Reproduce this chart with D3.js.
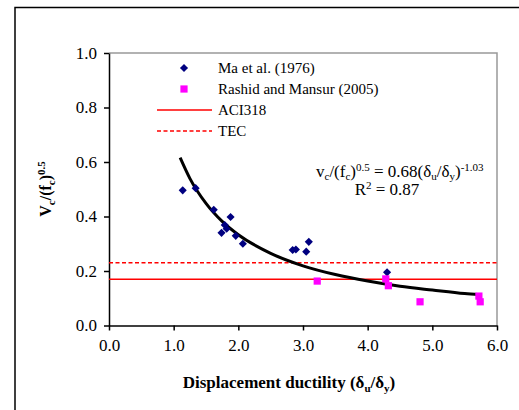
<!DOCTYPE html>
<html>
<head>
<meta charset="utf-8">
<script src="https://cdn.jsdelivr.net/npm/d3@7"></script>
<style>
  body { margin: 0; background: #fff; }
  svg text { font-family: "Liberation Serif", "Times New Roman", serif; fill: #000; }
</style>
</head>
<body>
<div id="chart"></div>
<script>
// Data
const maX = [1.14, 1.34, 1.62, 1.88, 1.79, 1.82, 1.74, 1.96, 2.07, 2.84, 2.89, 3.09, 3.05, 4.30];
const maY = [0.496, 0.504, 0.425, 0.398, 0.369, 0.355, 0.340, 0.329, 0.300, 0.277, 0.279, 0.307, 0.271, 0.195];
const rmX = [3.22, 4.28, 4.32, 4.81, 5.72, 5.74];
const rmY = [0.163, 0.171, 0.146, 0.087, 0.108, 0.087];
// power trendline, points
const fitX = [1.10, 1.25, 1.50, 1.75, 2.00, 2.50, 3.00, 3.50, 4.00, 4.50, 5.00, 5.50, 5.73];
const fitY = [0.616, 0.540, 0.448, 0.382, 0.333, 0.265, 0.219, 0.187, 0.163, 0.144, 0.130, 0.117, 0.113];
const aciValue = 0.17;
const tecValue = 0.23;
const xTicks = [0, 1, 2, 3, 4, 5, 6];
const yTicks = [0, 0.2, 0.4, 0.6, 0.8, 1.0];
const legendLabels = ["Ma et al. (1976)", "Rashid and Mansur (2005)", "ACI318", "TEC"];

const W = 519, H = 410;
const plot = { left: 109, right: 497, top: 53, bottom: 325.5 };
const SERIF = "Liberation Serif";

function renderChart() {
    const svg = d3.select("#chart").append("svg")
        .attr("width", W).attr("height", H)
        .attr("font-family", SERIF);

    // outer frame (runs off the right and bottom edges)
    svg.append("rect")
        .attr("x", 15).attr("y", 7.5)
        .attr("width", W + 20).attr("height", H + 20)
        .attr("fill", "none").attr("stroke", "#000").attr("stroke-width", 1.5);

    const x = d3.scaleLinear().domain([0, 6]).range([plot.left, plot.right]);
    const y = d3.scaleLinear().domain([0, 1]).range([plot.bottom, plot.top]);

    // plot area border, top and right in grey
    svg.append("path")
        .attr("d", `M${plot.left},${plot.top}H${plot.right}V${plot.bottom}`)
        .attr("fill", "none").attr("stroke", "#999").attr("stroke-width", 1.5);

    // axes
    const xAxis = svg.append("g")
        .attr("transform", `translate(0,${plot.bottom})`)
        .call(d3.axisBottom(x).tickValues(xTicks).tickFormat(d3.format(".1f"))
            .tickSizeInner(5).tickSizeOuter(0).tickPadding(8));
    const yAxis = svg.append("g")
        .attr("transform", `translate(${plot.left},0)`)
        .call(d3.axisLeft(y).tickValues(yTicks).tickFormat(d3.format(".1f"))
            .tickSizeInner(5).tickSizeOuter(0).tickPadding(7));
    [xAxis, yAxis].forEach(g => {
        g.attr("font-family", SERIF).attr("font-size", 17);
        g.select(".domain").attr("stroke", "#000").attr("stroke-width", 1.5);
        g.selectAll(".tick line").attr("stroke", "#000").attr("stroke-width", 1.5);
        g.selectAll(".tick text").attr("fill", "#000");
    });

    // code limits
    svg.append("line")
        .attr("x1", x(0)).attr("x2", x(6))
        .attr("y1", y(aciValue)).attr("y2", y(aciValue))
        .attr("stroke", "#ff0000").attr("stroke-width", 1.5);
    svg.append("line")
        .attr("x1", x(0)).attr("x2", x(6))
        .attr("y1", y(tecValue)).attr("y2", y(tecValue))
        .attr("stroke", "#ff0000").attr("stroke-width", 1.5)
        .attr("stroke-dasharray", "4,2.5");

    // trendline
    const line = d3.line()
        .x((d, i) => x(fitX[i]))
        .y(d => y(d))
        .curve(d3.curveMonotoneX);
    svg.append("path")
        .attr("d", line(fitY))
        .attr("fill", "none").attr("stroke", "#000").attr("stroke-width", 3);

    // markers
    const diamond = d3.symbol().type(d3.symbolDiamond2).size(42);
    const square = d3.symbol().type(d3.symbolSquare).size(52);
    svg.append("g").selectAll("path").data(maY).join("path")
        .attr("d", diamond)
        .attr("transform", (d, i) => `translate(${x(maX[i])},${y(d)})`)
        .attr("fill", "#000080");
    svg.append("g").selectAll("path").data(rmY).join("path")
        .attr("d", square)
        .attr("transform", (d, i) => `translate(${x(rmX[i])},${y(d)})`)
        .attr("fill", "#ff00ff");

    // legend
    const lg = svg.append("g").attr("font-size", 15);
    const rowY = [68, 89, 110, 131];
    lg.append("path").attr("d", diamond).attr("transform", `translate(184,${rowY[0]})`).attr("fill", "#000080");
    lg.append("path").attr("d", square).attr("transform", `translate(184,${rowY[1]})`).attr("fill", "#ff00ff");
    lg.append("line").attr("x1", 157).attr("x2", 212).attr("y1", rowY[2]).attr("y2", rowY[2])
        .attr("stroke", "#ff0000").attr("stroke-width", 1.5);
    lg.append("line").attr("x1", 157).attr("x2", 212).attr("y1", rowY[3]).attr("y2", rowY[3])
        .attr("stroke", "#ff0000").attr("stroke-width", 1.5).attr("stroke-dasharray", "4,2.5");
    lg.selectAll("text").data(legendLabels).join("text")
        .attr("x", 218).attr("y", (d, i) => rowY[i])
        .attr("dy", "0.35em").text(d => d);

    // equation
    const eq = svg.append("text").attr("x", 316).attr("y", 177).attr("font-size", 17);
    eq.append("tspan").text("v");
    eq.append("tspan").attr("dy", 3).attr("font-size", 11).text("c");
    eq.append("tspan").attr("dy", -3).text("/(f");
    eq.append("tspan").attr("dy", 3).attr("font-size", 11).text("c");
    eq.append("tspan").attr("dy", -3).text(")");
    eq.append("tspan").attr("dy", -6).attr("font-size", 11).text("0.5");
    eq.append("tspan").attr("dy", 6).text(" = 0.68(δ");
    eq.append("tspan").attr("dy", 3).attr("font-size", 11).text("u");
    eq.append("tspan").attr("dy", -3).text("/δ");
    eq.append("tspan").attr("dy", 3).attr("font-size", 11).text("y");
    eq.append("tspan").attr("dy", -3).text(")");
    eq.append("tspan").attr("dy", -6).attr("font-size", 11).text("-1.03");

    const r2 = svg.append("text").attr("x", 387).attr("y", 195)
        .attr("text-anchor", "middle").attr("font-size", 17);
    r2.append("tspan").text("R");
    r2.append("tspan").attr("dy", -6).attr("font-size", 11).text("2");
    r2.append("tspan").attr("dy", 6).text(" = 0.87");

    // x axis title
    const xt = svg.append("text").attr("x", 289).attr("y", 388)
        .attr("text-anchor", "middle").attr("font-size", 17).attr("font-weight", "bold");
    xt.append("tspan").text("Displacement ductility (δ");
    xt.append("tspan").attr("dy", 4).attr("font-size", 11).text("u");
    xt.append("tspan").attr("dy", -4).text("/δ");
    xt.append("tspan").attr("dy", 4).attr("font-size", 11).text("y");
    xt.append("tspan").attr("dy", -4).text(")");

    // y axis title
    const yt = svg.append("text")
        .attr("transform", "translate(51,189) rotate(-90)")
        .attr("text-anchor", "middle").attr("font-size", 16).attr("font-weight", "bold");
    yt.append("tspan").text("V");
    yt.append("tspan").attr("dy", 4).attr("font-size", 11).text("c");
    yt.append("tspan").attr("dy", -4).text("/(f");
    yt.append("tspan").attr("dy", 4).attr("font-size", 11).text("c");
    yt.append("tspan").attr("dy", -4).text(")");
    yt.append("tspan").attr("dy", -6).attr("font-size", 11).text("0.5");
}

document.addEventListener("DOMContentLoaded", renderChart);
</script>
</body>
</html>
